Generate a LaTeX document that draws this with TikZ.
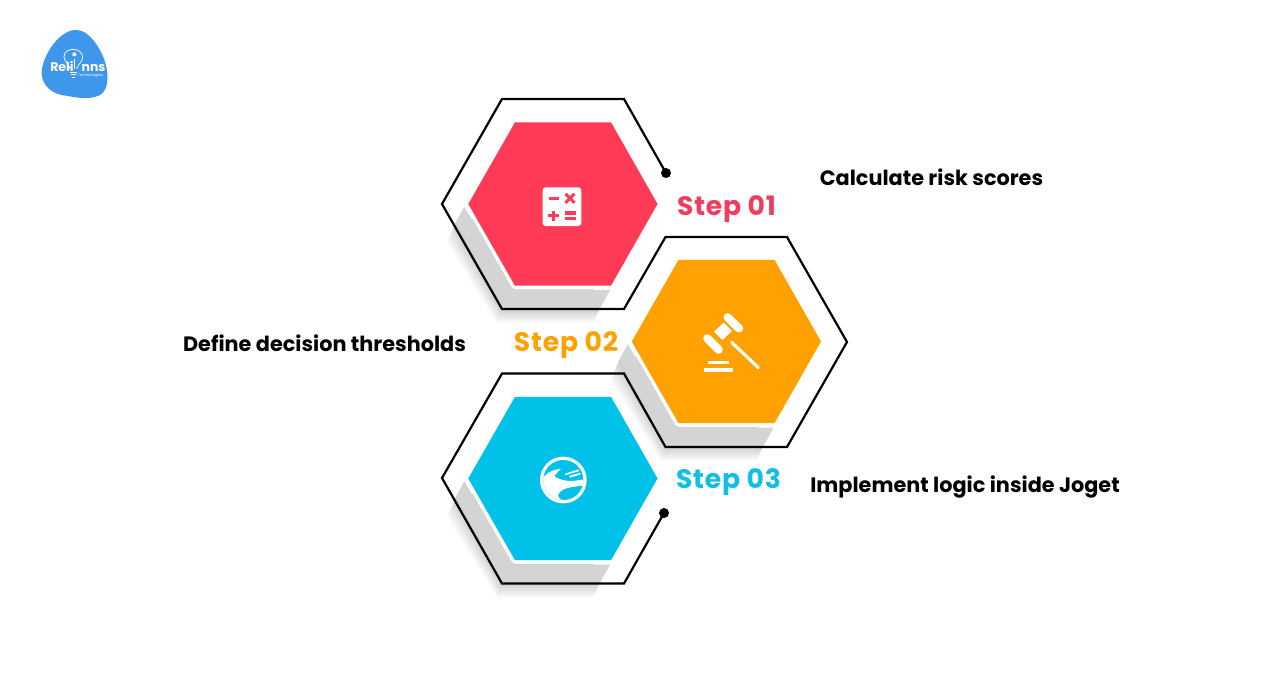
\documentclass[tikz,border=0pt]{standalone}
\usepackage{fontspec}
\setmainfont{Poppins}
\usetikzlibrary{calc}
\definecolor{cred}{HTML}{FF3A56}
\definecolor{cort}{HTML}{FFA100}
\definecolor{cblu}{HTML}{00C1E8}
\definecolor{tred}{HTML}{EE3D5E}
\definecolor{tblu}{HTML}{10BFE6}
\definecolor{logob}{HTML}{3F97EC}
\tikzset{
  steplabel/.style={font=\fontsize{20}{20}\selectfont\bfseries\addfontfeature{LetterSpace=3},inner sep=0pt},
  desclabel/.style={font=\fontsize{15.6}{18}\selectfont\bfseries,text=black,inner sep=0pt},
  outline/.style={draw=black,line width=1.65pt,line join=miter},
  dotend/.style={circle,fill=black,inner sep=0pt,minimum size=7.5pt},
  iconline/.style={line width=2.3pt,line cap=butt},
}
\newcommand{\hexshadow}[2]{%
  \begin{scope}[shift={(#1,#2)}]
    \foreach \k in {1,...,10}{
      \fill[black,opacity=0.018]
        (-107,17.7) -- ({-107-\k*0.9},{17.7+\k*2.1}) -- ({-61-\k*0.5},{104+\k*1.5}) -- ({37-\k*0.7},{104+\k*1.5}) -- (37,104) -- (0,0) -- cycle;
    }
    \fill[black!17] (-98.7,2.7) -- (-107,17.7) -- (-61,104) -- (37,104) -- (47.3,86) -- (-49.7,86) -- cycle;
  \end{scope}}
\newcommand{\hexfill}[3]{%
  \fill[#3,preaction={draw=white,line width=5.4pt,line join=round}] (#1-48,#2-81.7) -- (#1+48,#2-81.7) -- (#1+94.5,#2) -- (#1+48,#2+81.7) -- (#1-48,#2+81.7) -- (#1-94.7,#2) -- cycle;}
\begin{document}
\begin{tikzpicture}[x=0.75pt,y=-0.75pt]
\useasboundingbox (0,0) rectangle (1288,686);
\fill[white] (0,0) rectangle (1288,686);

% shadows
\hexshadow{563}{204}
\hexshadow{726.5}{341.5}
\hexshadow{563}{478.5}

% coloured cells
\hexfill{563}{204}{cred}
\hexfill{726.5}{341.5}{cort}
\hexfill{563}{478.5}{cblu}

% outline
\coordinate (dotA) at (666,173);
\coordinate (dotC) at (664,513);
\draw[outline] (dotA) -- (624,99) -- (502,99) -- (442,204) -- (502,309) -- (624,309)
  -- (665.5,237) -- (787,237) -- (847,342) -- (787,447) -- (665.5,447)
  -- (624,373.5) -- (502,373.5) -- (442,478) -- (502,583.5) -- (624,583.5) -- (dotC);
\node[dotend] (dota) at (dotA) {};
\node[dotend] (dotc) at (dotC) {};

% calculator icon
\fill[white,rounded corners=2.2pt] (542.7,187.3) rectangle (581.3,226);
\draw[cred,iconline] (548.5,198.3) -- (558.5,198.3);
\draw[cred,iconline] (565.5,193.8) -- (574.5,202.8) (574.5,193.8) -- (565.5,202.8);
\draw[cred,iconline] (548,215.7) -- (558.5,215.7) (553.3,210.5) -- (553.3,221);
\draw[cred,iconline] (565,213) -- (576,213) (565,218.6) -- (576,218.6);

% gavel icon
\begin{scope}[shift={(690,305)},x=0.25pt,y=-0.25pt]
  \fill[white] (101,53) -- (126,78) -- (97,105) -- (72,80) -- cycle;
  \draw[white,line width=6.2pt,line cap=round] (113,37) -- (147,70);
  \draw[white,line width=6.2pt,line cap=round] (52,100) -- (86,134);
  \draw[white,line width=2.4pt,line cap=round] (125,112) -- (205,188);
  \fill[white] (54,168) rectangle (118,178);
  \fill[white] (42,190) rectangle (130,201);
\end{scope}

% third icon
\begin{scope}[shift={(525,445)},x=0.25pt,y=-0.25pt]
  \fill[white] (115,105) circle [radius=70];
  \fill[cblu] (115,105) circle [radius=60];
  \begin{scope}
    \clip (115,105) circle [radius=60];
    \fill[white] (50,105) .. controls (60,85) and (85,72) .. (108,72)
      .. controls (98,80) and (92,88) .. (88,94)
      .. controls (100,102) and (120,108) .. (135,108)
      .. controls (150,108) and (165,105) .. (180,103)
      -- (180,180) -- (50,180) -- cycle;
    \fill[cblu] (100,150) .. controls (105,132) and (135,125) .. (178,122)
      .. controls (176,145) and (150,165) .. (118,165)
      .. controls (108,165) and (100,160) .. (100,150) -- cycle;
    \draw[white,line width=1.3pt,line cap=round] (122,88) -- (160,76);
    \draw[white,line width=1.3pt,line cap=round] (135,95) -- (165,86);
  \end{scope}
\end{scope}

% step labels
\node[steplabel,text=tred] (s1) at (726.5,209) {Step 01};
\node[steplabel,text=cort] (s2) at (566,345) {Step 02};
\node[steplabel,text=tblu] (s3) at (728.5,482) {Step 03};

% descriptions
\node[desclabel] (d1) at (931.5,177.5) {Calculate risk scores};
\node[desclabel] (d2) at (324.5,343) {Define decision thresholds};
\node[desclabel] (d3) at (965,487) {Implement logic inside Joget};

% logo
\begin{scope}[shift={(20,15)},x=0.25pt,y=-0.25pt]
  \fill[logob] (170,45) .. controls (205,45) and (240,95) .. (255,140)
    .. controls (268,185) and (265,225) .. (240,240)
    .. controls (205,258) and (160,245) .. (125,240)
    .. controls (85,232) and (63,200) .. (65,170)
    .. controls (68,120) and (120,42) .. (170,45) -- cycle;
  \draw[white,line width=0.55pt] (150,162) .. controls (148,150) and (132,138) .. (132,125)
    .. controls (132,110) and (147,103) .. (160,103)
    .. controls (175,103) and (188,113) .. (188,127)
    .. controls (188,140) and (172,150) .. (170,162);
  \draw[white,line width=0.55pt] (150,172) -- (170,172) (152,179) -- (168,179) (155,186) -- (165,186);
  \draw[white,line width=0.9pt] (163,132) -- (163,162);
  \fill[white] (163,118) circle [radius=6];
  \node[inner sep=0pt,text=white,font=\fontsize{9.4}{10}\selectfont\bfseries,anchor=base west] (lg1) at (90,168) {Reli};
  \node[inner sep=0pt,text=white,font=\fontsize{9.4}{10}\selectfont\bfseries,anchor=base west] (lg2) at (184,168) {nns};
  \node[inner sep=0pt,text=white,font=\fontsize{2.8}{3}\selectfont,anchor=base west] (lg3) at (173,183) {Technologies};
\end{scope}
\end{tikzpicture}
\end{document}
